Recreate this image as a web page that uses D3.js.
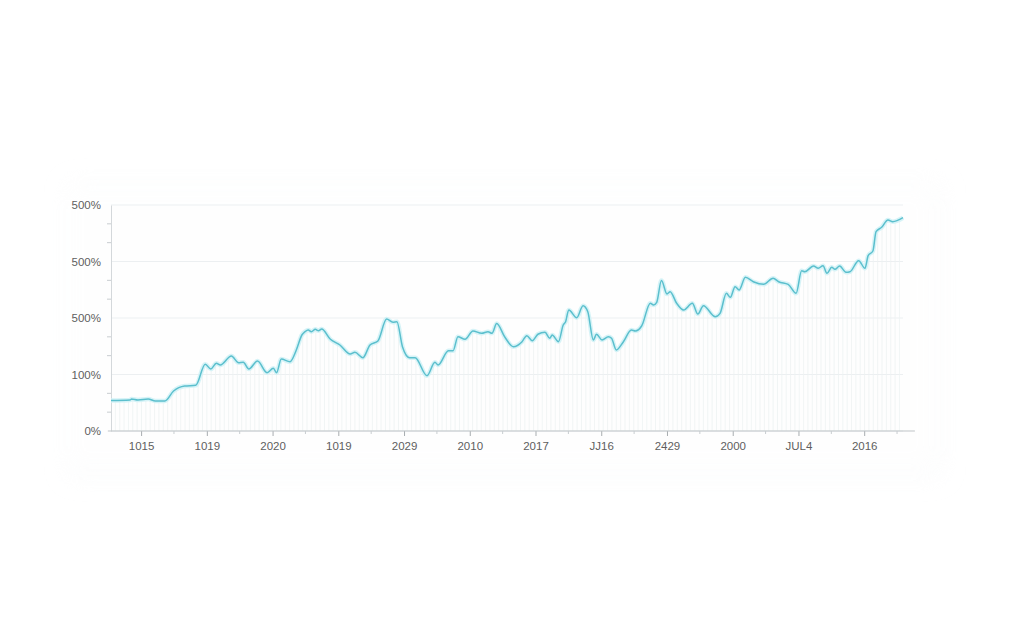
<!DOCTYPE html>
<html>
<head>
<meta charset="utf-8">
<script src="https://cdn.jsdelivr.net/npm/d3@7"></script>
<style>
html,body{margin:0;padding:0;background:#fff;}
svg{display:block;font-family:"Open Sans","DejaVu Sans",sans-serif;}
</style>
</head>
<body>
<svg id="chart" width="1024" height="640"></svg>
<script>
// ---- data ----
const periods = [0,2.4,2.6,3.4,4.7,5.6,6.8,7.9,9.3,10.7,11.9,12.6,13.3,13.8,15.2,16.1,16.7,17.4,18.5,19.7,20.5,20.9,21.5,22.6,23.4,24.1,24.5,24.9,25.3,25.8,26.2,26.6,27.7,28.9,30.2,30.8,31.8,32.7,33.7,34.8,35.6,36.1,36.8,37.7,38.4,39.9,40.9,41.3,42.6,43.2,43.8,44.7,45.7,46.8,47.6,48.1,48.7,49.7,50.8,51.9,52.5,53.2,53.9,54.8,55.4,55.7,56.5,57.1,57.4,57.8,58.8,59.6,60.2,60.9,61.3,62.0,62.8,63.2,63.8,64.7,65.7,66.2,67.0,68.1,68.5,68.9,69.5,70.2,70.6,71.4,72.3,73.4,74.1,74.8,76.3,76.9,77.7,78.2,78.8,79.3,80.1,81.1,82.4,83.6,84.3,85.5,86.5,87.2,87.6,88.7,89.3,89.9,90.4,91.0,91.4,92.0,92.8,93.3,94.4,95.2,95.6,96.2,96.6,97.3,98.1,98.7,100];
const values = [54,54.9,56.6,54.9,56.6,53.1,53.1,70.8,79.6,80.9,118.1,109.7,119.8,116.8,132.7,120.9,121.6,109.7,123.9,103.2,111.0,103.2,127.4,122.7,143.4,169.9,175.8,178.8,175.8,180.0,177.5,180.5,162.3,152.2,136.3,139.3,129.7,152.2,159.3,198.2,192.4,193.5,149.2,129.7,129.7,97.9,121.6,116.8,142.1,142.1,166.9,162.3,177.0,172.9,175.8,172.9,190.3,166.9,149.2,158.1,168.7,159.8,171.2,174.7,164.1,169.9,158.1,187.6,193.5,214.2,200.5,221.8,211.2,161.1,171.2,161.1,166.9,164.1,143.4,158.1,178.8,177.0,185.8,226.0,223.0,227.8,266.4,242.5,246.5,226.5,214.2,226.0,207.1,221.8,202.3,208.3,243.7,236.6,255.4,249.6,272.0,264.2,259.6,270.3,264.2,259.6,243.7,283.7,281.9,292.0,288.0,292.6,279.1,289.7,286.2,292.0,280.9,281.9,301.4,288.0,310.3,318.6,352.7,360.5,373.5,370.4,377.5];
const xTickPositions = [3.8,12.1,20.4,28.7,37.0,45.3,53.6,61.9,70.2,78.5,86.8,95.1];
const xTickLabels = ["1015","1019","2020","1019","2029","2010","2017","JJ16","2429","2000","JUL4","2016"];
const yTickValues = [0,100,200,300,400];
const yTickLabels = ["0%","100%","500%","500%","500%"];

(function(){
const data = periods.map((p,i)=>({t:p, v:values[i]}));

// ---- layout ----
const svg = d3.select("#chart");
const mLeft = 111, mRight = 903, mTop = 205, mBottom = 431;
const x = d3.scaleLinear().domain([0,100]).range([mLeft,mRight]);
const y = d3.scaleLinear().domain([0,400]).range([mBottom,mTop]);

// subtle card
const defs = svg.append("defs");
const f = defs.append("filter").attr("id","soft").attr("x","-10%").attr("y","-20%").attr("width","120%").attr("height","140%");
f.append("feGaussianBlur").attr("stdDeviation",12);
svg.append("rect").attr("x",70).attr("y",185).attr("width",870).attr("height",290)
  .attr("fill","#f4f6f7").attr("opacity",0.5).attr("filter","url(#soft)");
svg.append("rect").attr("x",60).attr("y",180).attr("width",880).attr("height",295).attr("fill","#fff").attr("opacity",0.85).attr("filter","url(#soft)");

// gridlines
svg.append("g").selectAll("line").data(yTickValues).join("line")
  .attr("x1",mLeft).attr("x2",mRight)
  .attr("y1",d=>y(d)).attr("y2",d=>y(d))
  .attr("stroke","#eceff1").attr("stroke-width",1.2);

// stripes under the line
const area = d3.area().x(d=>x(d.t)).y0(y(0)).y1(d=>y(d.v)).curve(d3.curveMonotoneX);
defs.append("clipPath").attr("id","under").append("path").datum(data).attr("d",area);
const stripeT = d3.range(0,100.01,0.55);
svg.append("g").attr("clip-path","url(#under)").selectAll("line").data(stripeT).join("line")
  .attr("x1",d=>x(d)).attr("x2",d=>x(d)).attr("y1",y(400)).attr("y2",y(0))
  .attr("stroke","#eef2f3").attr("stroke-width",0.8);

// y axis
const yAxis = d3.axisLeft(y).tickValues(yTickValues).tickFormat((d,i)=>yTickLabels[i]).tickSize(0).tickPadding(10);
const gy = svg.append("g").attr("transform",`translate(${mLeft},0)`).call(yAxis);
gy.select(".domain").attr("stroke","#d4d8db");
gy.selectAll("text").attr("fill","#5e5e5e").attr("font-size",11.5);
const yMinor = d3.range(0,400,100/3).filter(v=>Math.abs(v%100)>1 && Math.abs(v%100-100)>1);
svg.append("g").selectAll("line").data(yMinor).join("line")
  .attr("x1",mLeft-4).attr("x2",mLeft).attr("y1",d=>y(d)).attr("y2",d=>y(d))
  .attr("stroke","#c8cdd0");

// x axis
const xAxis = d3.axisBottom(x).tickValues(xTickPositions).tickFormat((d,i)=>xTickLabels[i]).tickSize(5).tickPadding(6);
const gx = svg.append("g").attr("transform",`translate(0,${mBottom})`).call(xAxis);
gx.select(".domain").remove();
gx.append("line").attr("x1",x(-0.4)).attr("x2",x(101.5)).attr("stroke","#bfc4c7");
gx.selectAll(".tick line").attr("stroke","#a8adb0");
gx.selectAll("text").attr("fill","#5e5e5e").attr("font-size",11.5);
const xMinor = xTickPositions.map(p=>p+4.15).filter(p=>p<100);
gx.append("g").selectAll("line").data(xMinor).join("line")
  .attr("x1",d=>x(d)).attr("x2",d=>x(d)).attr("y1",0).attr("y2",3).attr("stroke","#c8cdd0");

// line with soft glow
const line = d3.line().x(d=>x(d.t)).y(d=>y(d.v)).curve(d3.curveMonotoneX);
svg.append("path").datum(data).attr("d",line).attr("fill","none")
  .attr("stroke","#d2f2f6").attr("stroke-width",4.5).attr("stroke-linejoin","round").attr("opacity",0.9);
svg.append("path").datum(data).attr("d",line).attr("fill","none")
  .attr("stroke","#5bbfcd").attr("stroke-width",1.5).attr("stroke-linejoin","round");
})();
</script>
</body>
</html>
